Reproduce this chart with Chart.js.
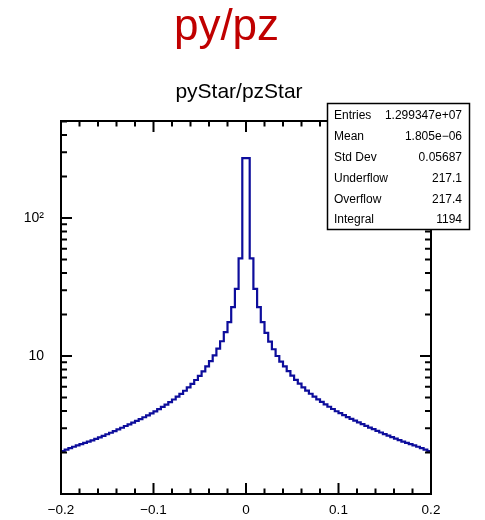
<!DOCTYPE html>
<html>
<head>
<meta charset="utf-8">
<script src="https://cdn.jsdelivr.net/npm/chart.js@4/dist/chart.umd.min.js"></script>
<style>
  body { margin: 0; background: #fff; }
  #wrap { width: 485px; height: 520px; position: relative; }
</style>
</head>
<body>
<div id="wrap"><canvas id="histCht"></canvas></div>
<script>
// histogram binning
const xLow = -0.2;
const xHigh = 0.2;
const nBins = 100;

// bin contents, left to right
const binContents = [
    2.05, 2.10, 2.15, 2.20, 2.25, 2.30, 2.35, 2.40, 2.45, 2.51,
    2.57, 2.64, 2.71, 2.78, 2.86, 2.94, 3.02, 3.11, 3.20, 3.29,
    3.39, 3.49, 3.60, 3.72, 3.84, 3.97, 4.12, 4.28, 4.45, 4.64,
    4.84, 5.07, 5.32, 5.60, 5.92, 6.28, 6.70, 7.18, 7.74, 8.40,
    9.18, 10.1, 11.3, 12.8, 14.9, 17.6, 22.6, 30.7, 51.0, 272,
    272, 51.0, 30.7, 22.6, 17.6, 14.7, 12.7, 11.2, 10.0, 9.10,
    8.40, 7.76, 7.20, 6.72, 6.30, 5.93, 5.61, 5.33, 5.08, 4.85,
    4.65, 4.46, 4.29, 4.13, 3.98, 3.85, 3.73, 3.61, 3.50, 3.40,
    3.30, 3.21, 3.12, 3.03, 2.95, 2.87, 2.79, 2.72, 2.65, 2.58,
    2.52, 2.46, 2.40, 2.35, 2.30, 2.25, 2.20, 2.15, 2.10, 2.05
];

const yMin = 1;
const yMax = 505;

const xTickValues = [-0.2, -0.1, 0, 0.1, 0.2];
const xTickLabels = ['\u22120.2', '\u22120.1', '0', '0.1', '0.2'];
const yTickValues = [10, 100];
const yTickLabels = ['10', '10\u00b2'];

const statNames = ['Entries', 'Mean', 'Std Dev', 'Underflow', 'Overflow', 'Integral'];
const statValues = ['1.299347e+07', '1.805e\u221206', '0.05687', '217.1', '217.4', '1194'];

const pageTitle = 'py/pz';
const histTitle = 'pyStar/pzStar';

const fontFamily = '"Liberation Sans", Arial, Helvetica, sans-serif';

// left bin edges plus the closing edge, for a stepped outline
const binWidth = (xHigh - xLow) / nBins;
let points = binContents.map(function(v, i) {
    return { x: xLow + i * binWidth, y: v };
});
points.push({ x: xHigh, y: binContents[binContents.length - 1] });

// frame, inward ticks, titles and stats box
const rootFrame = {
    id: 'rootFrame',
    afterDraw(chart) {
        const ctx = chart.ctx;
        const area = chart.chartArea;
        const xs = chart.scales.x;
        const ys = chart.scales.y;
        ctx.save();
        ctx.strokeStyle = '#000';
        ctx.lineWidth = 2;
        ctx.strokeRect(area.left, area.top, area.right - area.left, area.bottom - area.top);

        ctx.beginPath();
        for (let k = -10; k <= 10; k++) {
            const px = xs.getPixelForValue(k * 0.02);
            const len = (k % 5 === 0) ? 11 : 5.5;
            ctx.moveTo(px, area.bottom);
            ctx.lineTo(px, area.bottom - len);
            ctx.moveTo(px, area.top);
            ctx.lineTo(px, area.top + len);
        }
        for (let d = 1; d <= 100; d *= 10) {
            for (let m = 1; m <= 9; m++) {
                const v = m * d;
                if (v < yMin || v > yMax) continue;
                const py = ys.getPixelForValue(v);
                const len = (m === 1) ? 11 : 6;
                ctx.moveTo(area.left, py);
                ctx.lineTo(area.left + len, py);
                ctx.moveTo(area.right, py);
                ctx.lineTo(area.right - len, py);
            }
        }
        ctx.stroke();

        ctx.fillStyle = '#c00000';
        ctx.font = '44px ' + fontFamily;
        ctx.textAlign = 'center';
        ctx.textBaseline = 'alphabetic';
        ctx.fillText(pageTitle, 226.5, 39.5);

        ctx.fillStyle = '#000';
        ctx.font = '21px ' + fontFamily;
        ctx.fillText(histTitle, 239, 98);

        const bx = 327.5, by = 103.5, bw = 142, bh = 126;
        ctx.fillStyle = '#fff';
        ctx.fillRect(bx, by, bw, bh);
        ctx.lineWidth = 1.5;
        ctx.strokeRect(bx, by, bw, bh);
        ctx.fillStyle = '#000';
        ctx.font = '12px ' + fontFamily;
        ctx.textBaseline = 'middle';
        statNames.forEach(function(name, i) {
            const ty = 116 + i * 20.8;
            ctx.textAlign = 'left';
            ctx.fillText(name, 334, ty);
            ctx.textAlign = 'right';
            ctx.fillText(statValues[i], 462, ty);
        });
        ctx.restore();
    }
};

var ctx = document.getElementById('histCht');
var histChart = new Chart(ctx, {
    type: 'line',
    data: {
        datasets: [{
            label: histTitle,
            data: points,
            stepped: 'before',
            borderColor: '#0d0d9c',
            borderWidth: 2.2,
            pointRadius: 0,
            fill: false
        }]
    },
    options: {
        responsive: true,
        maintainAspectRatio: false,
        animation: false,
        layout: {
            padding: { top: 121, right: 54, left: 0, bottom: 0 }
        },
        plugins: {
            legend: { display: false },
            tooltip: { enabled: false }
        },
        scales: {
            x: {
                type: 'linear',
                min: xLow,
                max: xHigh,
                grid: { display: false, drawTicks: false },
                border: { display: false },
                afterBuildTicks: function(scale) {
                    scale.ticks = xTickValues.map(function(v) { return { value: v }; });
                },
                afterFit: function(scale) { scale.height = 26; },
                ticks: {
                    autoSkip: false,
                    maxRotation: 0,
                    padding: 8,
                    color: '#000',
                    font: { family: fontFamily, size: 13.5 },
                    callback: function(value, index) { return xTickLabels[index]; }
                }
            },
            y: {
                type: 'logarithmic',
                min: yMin,
                max: yMax,
                grid: { display: false, drawTicks: false },
                border: { display: false },
                afterBuildTicks: function(scale) {
                    scale.ticks = yTickValues.map(function(v) { return { value: v }; });
                },
                afterFit: function(scale) { scale.width = 61; },
                ticks: {
                    autoSkip: false,
                    padding: 17,
                    color: '#000',
                    font: { family: fontFamily, size: 14 },
                    callback: function(value, index) { return yTickLabels[index]; }
                }
            }
        }
    },
    plugins: [rootFrame]
});
</script>
</body>
</html>
